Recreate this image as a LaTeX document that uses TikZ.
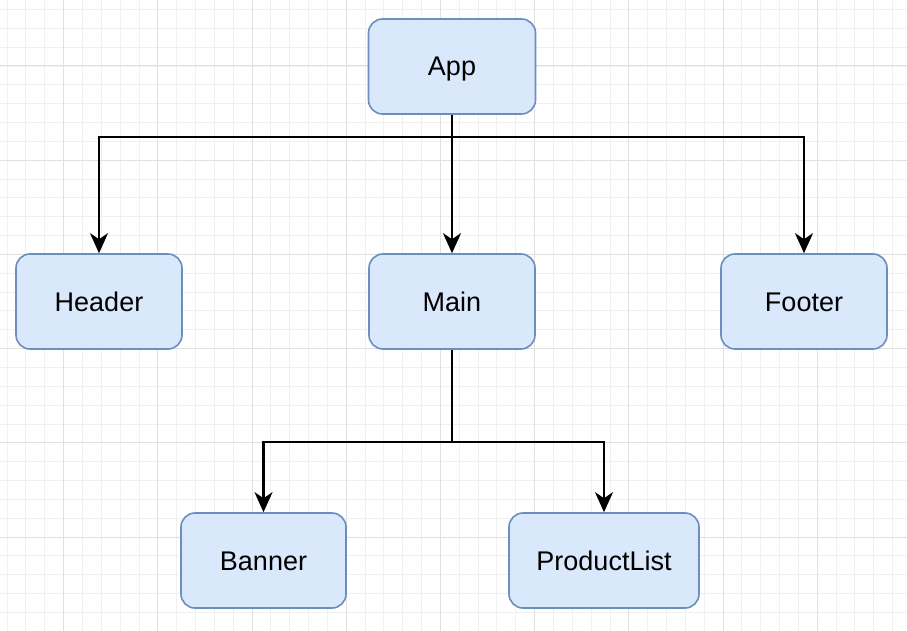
\documentclass[tikz,border=0pt]{standalone}
\usepackage{fontspec}
\setmainfont{Liberation Sans}
\usetikzlibrary{arrows.meta}
\definecolor{boxfill}{HTML}{DAE8FC}
\definecolor{boxdraw}{HTML}{6C8EBF}
\definecolor{gridmajor}{HTML}{E0E0E0}
\definecolor{gridminor}{HTML}{F0F0F0}
\tikzset{
  comp/.style={draw=boxdraw, fill=boxfill, line width=1.6pt, rounded corners=14pt,
    inner sep=0pt, text height=19pt, text depth=0pt, yshift=0pt,
    font=\fontsize{27}{32}\selectfont},
  conn/.style={line width=2.2pt, -{Stealth[length=20pt,width=18pt,inset=6pt]}},
  plain/.style={line width=2.2pt},
}
\begin{document}
\begin{tikzpicture}[x=1pt,y=-1pt]
\useasboundingbox (0,0) rectangle (907,631);
\fill[white] (0,0) rectangle (907,631);
% minor grid
\foreach \k in {-3,...,45} {
  \pgfmathsetmacro{\gx}{63.6+\k*18.84}
  \draw[gridminor, line width=0.9pt] (\gx,0) -- (\gx,631);
}
\foreach \k in {-3,...,32} {
  \pgfmathsetmacro{\gy}{66+\k*18.84}
  \draw[gridminor, line width=0.9pt] (0,\gy) -- (907,\gy);
}
% major grid
\foreach \k in {0,...,9} {
  \pgfmathsetmacro{\gx}{63.6+\k*94.2}
  \draw[gridmajor, line width=1pt] (\gx,0) -- (\gx,631);
}
\foreach \k in {0,...,6} {
  \pgfmathsetmacro{\gy}{66+\k*94.2}
  \draw[gridmajor, line width=1pt] (0,\gy) -- (907,\gy);
}
% nodes
\node[comp, minimum width=167pt, minimum height=95pt] (app) at (452,66.5) {App};
\node[comp, minimum width=166pt, minimum height=95pt] (header) at (99,301.5) {Header};
\node[comp, minimum width=166pt, minimum height=95pt] (main) at (452,301.5) {Main};
\node[comp, minimum width=166pt, minimum height=95pt] (footer) at (804,301.5) {Footer};
\node[comp, minimum width=165pt, minimum height=95pt] (banner) at (263.5,560.5) {Banner};
\node[comp, minimum width=190pt, minimum height=95pt] (plist) at (604,560.5) {ProductList};
% connectors
\coordinate (j1) at (452,137);
\coordinate (j2) at (452,442);
\draw[plain] (app.south) -- (j1);
\draw[conn] (j1) -| (header.north);
\draw[conn] (app.south) -- (main.north);
\draw[conn] (j1) -| (footer.north);
\draw[plain] (main.south) -- (j2);
\draw[conn] (j2) -| (banner.north);
\draw[conn] (j2) -| (plist.north);
\end{tikzpicture}
\end{document}
